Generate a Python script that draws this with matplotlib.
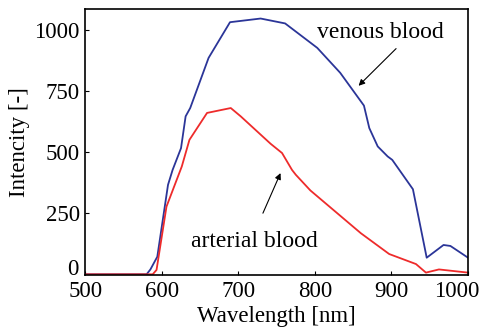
import numpy as np
import matplotlib.pyplot as plt
from matplotlib.transforms import ScaledTranslation

plt.rcParams['font.family'] = ['Liberation Serif', 'DejaVu Serif']
plt.rcParams['mathtext.fontset'] = 'stix'

# venous blood spectrum
venous_nm = [500, 580, 585, 594, 608, 614, 625, 631, 637, 661, 689, 729, 761,
             803, 833, 864, 871, 882, 895, 901, 928, 946, 968, 977, 1000]
venous_val = [0, 0, 20, 72, 366, 427, 516, 646, 680, 885, 1031, 1046, 1026,
              926, 824, 690, 598, 523, 482, 468, 348, 68, 120, 116, 68]

# arterial blood spectrum
arterial_nm = [500, 588, 593, 606, 626, 636, 659, 690, 703, 742, 757, 770,
               775, 794, 860, 897, 932, 945, 962, 1000]
arterial_val = [0, 0, 18, 277, 441, 550, 660, 680, 646, 534, 496, 427,
                407, 343, 168, 83, 42, 7, 20, 7]

xticks = [500, 600, 700, 800, 900, 1000]
yticks = [0, 250, 500, 750, 1000]

fig = plt.figure(figsize=(4.85, 3.33), dpi=100)
ax = fig.add_axes([0.176, 0.174, 0.789, 0.799])

ax.plot(venous_nm, venous_val, color='#2b3598', lw=1.3)
ax.plot(arterial_nm, arterial_val, color='#ee2b2b', lw=1.3)

ax.set_xlim(500, 1000)
ax.set_ylim(-3, 1085)
ax.set_xticks(xticks)
ax.set_yticks(yticks)
ax.tick_params(direction='in', length=3, width=0.8, labelsize=16.5, pad=4)
for s in ax.spines.values():
    s.set_linewidth(1.2)

# nudge the corner tick labels like in the original
last = ax.get_xticklabels()[-1]
last.set_transform(last.get_transform() + ScaledTranslation(-8 / 72, 0, fig.dpi_scale_trans))
zero = ax.get_yticklabels()[0]
zero.set_transform(zero.get_transform() + ScaledTranslation(-1 / 72, 5 / 72, fig.dpi_scale_trans))

ax.set_xlabel('Wavelength [nm]', fontsize=16.5, labelpad=3)
ax.set_ylabel('Intencity [-]', fontsize=16.5, labelpad=3)

ax.annotate('venous blood', xy=(857, 771), xytext=(886, 989),
            fontsize=17, ha='center', va='center')
ax.annotate('', xy=(857, 771), xytext=(906, 923),
            arrowprops=dict(arrowstyle='-|>', color='black', lw=0.8,
                            mutation_scale=9, shrinkA=0, shrinkB=0))

ax.annotate('arterial blood', xy=(755, 414), xytext=(721, 136),
            fontsize=17, ha='center', va='center')
ax.annotate('', xy=(755, 414), xytext=(732, 250),
            arrowprops=dict(arrowstyle='-|>', color='black', lw=0.8,
                            mutation_scale=9, shrinkA=0, shrinkB=0))

fig.savefig('out.png', dpi=100)
